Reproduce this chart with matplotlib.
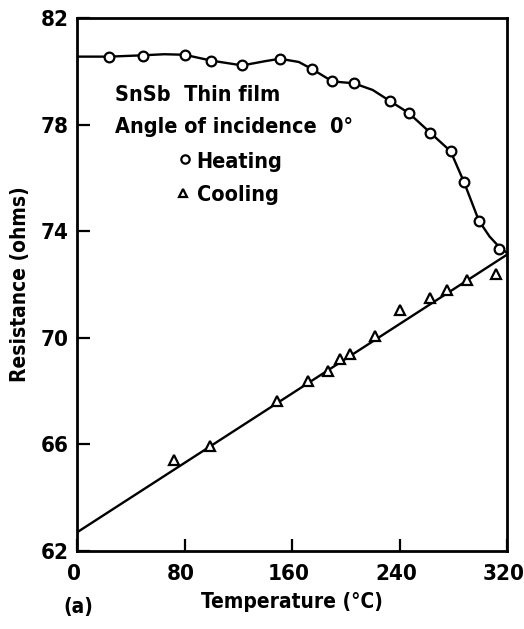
import numpy as np
import matplotlib.pyplot as plt
from matplotlib.transforms import ScaledTranslation

# ---- Daten ----
heat_T = [24, 49, 80, 100, 123, 151, 175, 190, 206, 233, 247, 263, 278, 288, 299, 314]
heat_R = [80.55, 80.58, 80.62, 80.38, 80.22, 80.47, 80.08, 79.62, 79.55, 78.88, 78.43, 77.69, 77.0, 75.84, 74.4, 73.34]

# Verlauf der gezeichneten Kurve (Heizen)
curve_T = [0, 24, 49, 65, 80, 100, 123, 140, 151, 165, 175, 190, 206, 220, 233, 247, 263, 278, 288, 299, 307, 314, 320]
curve_R = [80.55, 80.55, 80.6, 80.64, 80.62, 80.4, 80.22, 80.38, 80.47, 80.35, 80.08, 79.62, 79.55, 79.3, 78.88, 78.43, 77.69, 77.0, 75.84, 74.4, 73.8, 73.42, 73.18]

cool_T = [72, 99, 149, 172, 187, 196, 203, 222, 240, 263, 275, 290, 312]
cool_R = [65.4, 65.93, 67.63, 68.38, 68.77, 69.22, 69.4, 70.07, 71.03, 71.48, 71.81, 72.16, 72.41]

# Ausgleichsgerade (Abkühlen), Endpunkte aus dem Bild
line_T = [0, 320]
line_R = [62.7, 73.12]

xticks = [0, 80, 160, 240, 320]
yticks = [62, 66, 70, 74, 78, 82]

# ---- Plot ----
plt.rcParams['font.family'] = ['DejaVu Sans']
plt.rcParams['font.weight'] = 'bold'
plt.rcParams['font.stretch'] = 'condensed'

fig = plt.figure(figsize=(5.24, 6.29), dpi=100)
ax = fig.add_axes([0.147, 0.124, 0.8206, 0.8474])

ax.plot(curve_T, curve_R, color='black', lw=1.7, zorder=2)
ax.plot(heat_T, heat_R, ls='none', marker='o', ms=7, mfc='white', mec='black', mew=1.6, zorder=3)

ax.plot(line_T, line_R, color='black', lw=1.7, zorder=2)
ax.plot(cool_T, cool_R, ls='none', marker='^', ms=7.5, mfc='white', mec='black', mew=1.6, zorder=3)

ax.set_xlim(0, 320)
ax.set_ylim(62, 82)
ax.set_xticks(xticks)
ax.set_yticks(yticks)
ax.tick_params(direction='in', length=9, width=1.6, labelsize=16)
ax.tick_params(axis='x', pad=9)
ax.tick_params(axis='y', pad=6)
for s in ax.spines.values():
    s.set_linewidth(2)

# x-Ticklabels etwas nach links, damit "320" ins Bild passt
shift = ScaledTranslation(-2.5 / 72, 0, fig.dpi_scale_trans)
for lab in ax.get_xticklabels():
    lab.set_transform(lab.get_transform() + shift)

ax.set_ylabel('Resistance (ohms)', fontsize=15, fontweight='bold', labelpad=8)
ax.set_xlabel('Temperature (°C)', fontsize=15, fontweight='bold', labelpad=6)
fig.text(0.12, 0.026, '(a)', fontsize=15, fontweight='bold', ha='left')

# Beschriftung im Diagramm
ax.text(28, 79.1, 'SnSb  Thin film', fontsize=15.5, fontweight='bold', va='center')
ax.text(28, 77.9, 'Angle of incidence  0°', fontsize=15.5, fontweight='bold', va='center')
ax.plot([80.5], [76.7], ls='none', marker='o', ms=6, mfc='white', mec='black', mew=1.6)
ax.text(89, 76.6, 'Heating', fontsize=15.5, fontweight='bold', va='center')
ax.plot([79], [75.45], ls='none', marker='^', ms=6, mfc='white', mec='black', mew=1.6)
ax.text(89, 75.35, 'Cooling', fontsize=15.5, fontweight='bold', va='center')

fig.savefig('out.png', dpi=100)
